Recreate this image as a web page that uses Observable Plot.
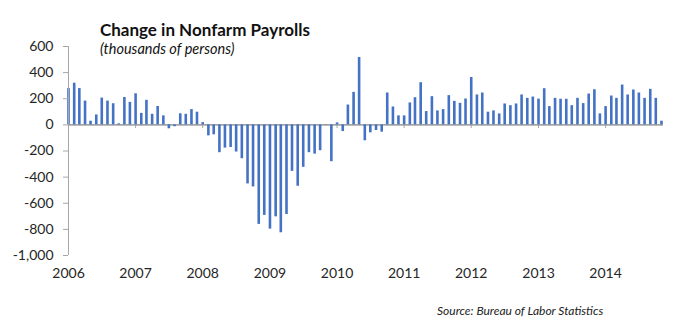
<!DOCTYPE html>
<html>
<head>
<meta charset="utf-8">
<script src="https://cdn.jsdelivr.net/npm/d3@7"></script>
<script src="https://cdn.jsdelivr.net/npm/@observablehq/plot@0.6"></script>
<style>
  body { margin: 0; background: #fff; }
  #chart { width: 687px; height: 330px; position: relative; }
</style>
</head>
<body>
<div id="chart"></div>
<script>
// ---- Data (thousands of persons), monthly ----
const years = [2006, 2007, 2008, 2009, 2010, 2011, 2012, 2013, 2014];
const v2006 = [278, 319, 278, 182, 28, 76, 205, 182, 162, 8, 210, 172];
const v2007 = [238, 88, 188, 81, 141, 69, -30, -14, 85, 81, 117, 97];
const v2008 = [17, -84, -76, -213, -178, -173, -208, -259, -452, -475, -762, -693];
const v2009 = [-798, -704, -826, -686, -356, -470, -325, -213, -224, -198, 3, -282];
const v2010 = [15, -51, 152, 249, 516, -122, -61, -43, -56, 244, 137, 69];
const v2011 = [69, 168, 208, 323, 102, 216, 107, 117, 224, 180, 165, 198];
const v2012 = [363, 229, 244, 97, 107, 84, 160, 147, 160, 229, 203, 213];
const v2013 = [197, 277, 140, 203, 196, 196, 147, 203, 163, 236, 269, 84];
const v2014 = [140, 221, 203, 305, 229, 267, 244, 203, 272, 203, 28];
const yTickValues = [600, 400, 200, 0, -200, -400, -600, -800, -1000];
const titleText = "Change in Nonfarm Payrolls";
const subtitleText = "(thousands of persons)";
const sourceText = "Source: Bureau of Labor Statistics";

// ---- Build table ----
const series = [v2006, v2007, v2008, v2009, v2010, v2011, v2012, v2013, v2014];
const data = [];
series.forEach((arr, i) => arr.forEach((v, m) => data.push({date: new Date(Date.UTC(years[i], m, 1)), value: v})));
const yearTicks = years.map(y => new Date(Date.UTC(y, 0, 1)));
const xStart = new Date(Date.UTC(2006, 0, 1));
const xEnd = new Date(Date.UTC(2014, 10, 12));

const axisGray = "#a6a6a6";
const textColor = "#262626";

const plot = Plot.plot({
  width: 687,
  height: 330,
  marginLeft: 68,
  marginRight: 24,
  marginTop: 46,
  marginBottom: 75,
  style: {fontFamily: "Lato, 'Open Sans', sans-serif", fontSize: "14px", color: textColor, background: "white", overflow: "visible"},
  x: {type: "utc", domain: [xStart, xEnd]},
  y: {domain: [-1000, 600]},
  marks: [
    Plot.ruleY([0], {stroke: axisGray, strokeWidth: 1.6}),
    Plot.ruleX(yearTicks, {x: d => d, y1: 0, y2: -28, stroke: axisGray, strokeWidth: 1}),
    Plot.ruleX(data, {x: "date", y1: 0, y2: "value", stroke: "#4472c4", strokeWidth: 2.6}),
    Plot.ruleX([xStart], {y1: -1000, y2: 600, stroke: axisGray, strokeWidth: 1}),
    Plot.axisY({ticks: yTickValues, tickSize: 5, tickPadding: 10, tickFormat: d => d.toLocaleString("en-US"), stroke: axisGray, fill: textColor, label: null}),
    Plot.axisX({ticks: yearTicks, tickSize: 0, tickPadding: 13, tickFormat: d => String(d.getUTCFullYear()), fill: textColor, label: null})
  ]
});

const svg = d3.select(plot);
svg.append("text").attr("x", 100).attr("y", 36).attr("text-anchor", "start")
  .attr("font-family", "Lato, sans-serif").attr("font-weight", "bold").attr("font-size", 17)
  .attr("fill", "#111").text(titleText);
svg.append("text").attr("x", 100).attr("y", 54).attr("text-anchor", "start")
  .attr("font-family", "Lato, sans-serif").attr("font-style", "italic").attr("font-size", 14.5)
  .attr("fill", "#111").text(subtitleText);
svg.append("text").attr("x", 437).attr("y", 315).attr("text-anchor", "start")
  .attr("font-family", "Lato, sans-serif").attr("font-style", "italic").attr("font-size", 12)
  .attr("fill", "#222").text(sourceText);

document.getElementById("chart").appendChild(plot);
</script>
</body>
</html>
